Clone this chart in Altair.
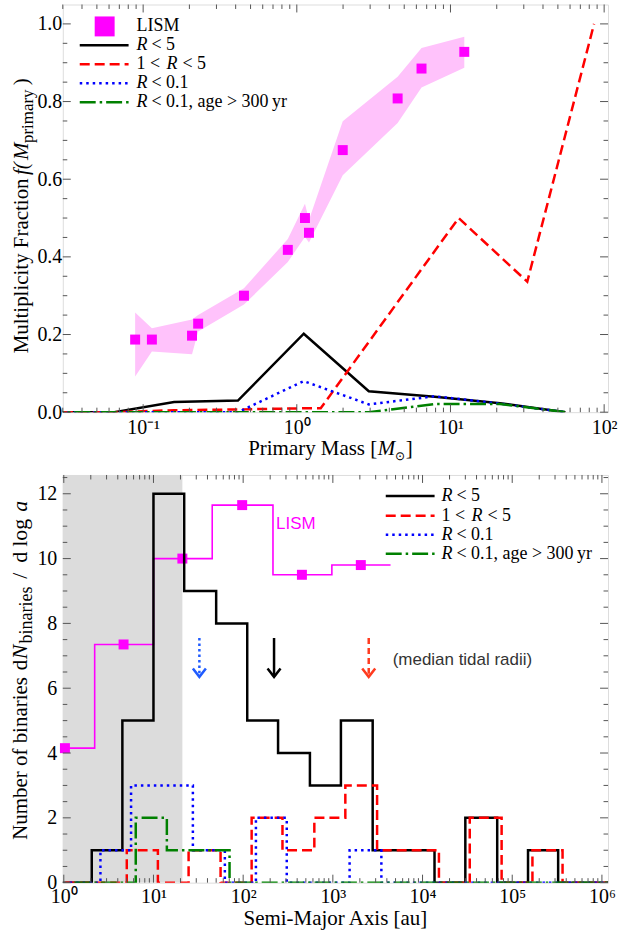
import altair as alt
import pandas as pd

# ------------------------------------------------------------------ data
# Upper panel: multiplicity fraction against primary mass
lism_mass = [0.0887, 0.114, 0.208, 0.228, 0.453, 0.874, 1.13, 1.20, 1.99, 4.53, 6.48, 12.3]
lism_frac = [0.187, 0.187, 0.197, 0.228, 0.300, 0.418, 0.500, 0.462, 0.675, 0.808, 0.885, 0.928]
lism_frac_lo = [0.092, 0.156, 0.149, 0.208, 0.277, 0.387, 0.451, 0.437, 0.610, 0.745, 0.836, 0.887]
lism_frac_hi = [0.257, 0.216, 0.239, 0.250, 0.319, 0.446, 0.537, 0.495, 0.749, 0.864, 0.938, 0.967]

bin_mass = [0.024, 0.065, 0.159, 0.414, 1.11, 2.94, 7.9, 21.0, 56.0]
frac_r5 = [0.0, 0.0, 0.026, 0.030, 0.202, 0.054, 0.040, 0.023, 0.0]
frac_r01 = [0.0, 0.0, 0.0, 0.0, 0.080, 0.020, 0.041, 0.022, 0.0]
frac_r01_old = [0.0, 0.0, 0.0, 0.0, 0.0, 0.0, 0.021, 0.021, 0.0]
bin_mass_r1to5 = [0.024, 0.065, 0.159, 0.414, 1.11, 1.43, 11.3, 31.6, 86.0]
frac_r1to5 = [0.0, 0.0, 0.005, 0.007, 0.010, 0.010, 0.500, 0.336, 1.0]

# Lower panel: distribution of binary semi-major axes
sma_edges = [0.93, 2.05, 4.5, 10, 22, 50, 111, 245, 555, 1230, 2780, 6150,
             13600, 30000, 68000, 150000, 325000, 720000, 1600000]
n_r5 = [0, 1, 5, 12, 9, 8, 5, 4, 3, 5, 1, 1, 0, 2, 0, 1, 0, 0]
n_r1to5 = [0, 0, 1, 0, 1, 0, 2, 1, 2, 3, 1, 1, 0, 2, 0, 1, 0, 0]
n_r01 = [0, 1, 3, 3, 1, 0, 2, 0, 0, 1, 0, 0, 0, 0, 0, 0, 0, 0]
n_r01_old = [0, 0, 2, 1, 1, 0, 0, 0, 0, 0, 0, 0, 0, 0, 0, 0, 0, 0]
# small multiplicative offsets so overlapping histograms stay visible
hist_shift = [1.0, 1.12, 1.25, 1.41]

lism_sma_edges = [0.48, 2.21, 10.0, 45.2, 215, 975, 4400]
lism_sma_mid = [1.03, 4.64, 21.0, 97.5, 452, 2050]
lism_sma_n = [4.15, 7.35, 10.0, 11.65, 9.5, 9.8]

# median tidal radii: R<0.1, R<5, 1<R<5
tidal_radius = [32.5, 221, 2512]
arrow_from, arrow_to = 7.55, 6.35
shaded_upper = 21.0

# ------------------------------------------------------------------ style
SERIF = "Liberation Serif"
SANS = "Liberation Sans"
TICK = "#555555"
MAG = "#ff00ff"
BAND = "#ffc2fb"
GREY = "#dcdcdc"

SERIES = [  # colour, dash pattern
    ("black", None),
    ("#ff0000", [10, 5]),
    ("#0000ff", [2.5, 4]),
    ("#008000", [16, 4, 2.5, 4]),
]
ARROW_COL = ["#1f5bff", "black", "#ff3b1f"]
ARROW_DASH = [[2.5, 3], None, [6, 4]]
CHEVRON = "M-1,-1.3L0,0L1,-1.3"

W, H = 547, 409
ONE = pd.DataFrame({"k": [0]})

SUP = {-1: "\u207b\u00b9", 0: "\u2070", 1: "\u00b9", 2: "\u00b2", 3: "\u00b3",
       4: "\u2074", 5: "\u2075", 6: "\u2076"}


def pow10_expr(exps):
    e = "round(log(datum.value)/LN10)"
    expr = "''"
    for k in exps:
        expr = f"({e}=={k} ? '{SUP[k]}' : {expr})"
    return "'10' + " + expr


AX = dict(title=None, ticks=False, tickSize=0, domain=False, grid=False,
          labelFont=SERIF, labelFontSize=20, labelColor="black",
          labelOverlap=False, labelFlush=False, labelBound=False)


def label(text, x, y, size=20, italic=False, font=SERIF, color="black",
          angle=0, align="left", baseline="middle"):
    kw = dict(text=text, font=font, fontSize=size, color=color,
              align=align, baseline=baseline)
    if italic:
        kw["fontStyle"] = "italic"
    if angle:
        kw["angle"] = angle
    return alt.Chart(ONE).mark_text(**kw).encode(x=alt.value(x), y=alt.value(y))


def key_line(x0, x1, y, color, dash):
    kw = dict(color=color, strokeWidth=2.5)
    if dash:
        kw["strokeDash"] = dash
    return alt.Chart(ONE).mark_rule(**kw).encode(
        x=alt.value(x0), x2=alt.value(x1), y=alt.value(y))


def tick_layers(xenc, yenc, xmaj, xmin, ymaj, ymin):
    out = []
    for vals, L in ((xmaj, 8), (xmin, 4.5)):
        base = alt.Chart(pd.DataFrame({"v": vals})).mark_rule(color=TICK, strokeWidth=1)
        out.append(base.encode(x=xenc("v"), y=alt.value(H), y2=alt.value(H - L)))
        out.append(base.encode(x=xenc("v"), y=alt.value(0), y2=alt.value(L)))
    for vals, L in ((ymaj, 8), (ymin, 4.5)):
        base = alt.Chart(pd.DataFrame({"v": vals})).mark_rule(color=TICK, strokeWidth=1)
        out.append(base.encode(y=yenc("v"), x=alt.value(0), x2=alt.value(L)))
        out.append(base.encode(y=yenc("v"), x=alt.value(W), x2=alt.value(W - L)))
    return out


def legend_rows(x_line, x_text, ys):
    rows = [
        [("R", 0, True), ("< 5", 15, False)],
        [("1 <", 0, False), ("R", 30, True), ("< 5", 46, False)],
        [("R", 0, True), ("< 0.1", 15, False)],
        [("R", 0, True), ("< 0.1, age > 300\u2009yr", 15, False)],
    ]
    out = []
    for (col, dash), row, y in zip(SERIES, rows, ys):
        out.append(key_line(x_line, x_line + 49, y, col, dash))
        for txt, dx, it in row:
            out.append(label(txt, x_text + dx, y, size=18, italic=it))
    return out


# ------------------------------------------------------------------ upper panel
def tx(field):
    return alt.X(f"{field}:Q", scale=alt.Scale(type="log", domain=[0.03, 106], nice=False),
                 axis=alt.Axis(values=[0.1, 1, 10, 100], labelExpr=pow10_expr([-1, 0, 1, 2]),
                               labelPadding=5, **AX))


def ty(field):
    return alt.Y(f"{field}:Q", scale=alt.Scale(domain=[0, 1.05], nice=False, zero=False),
                 axis=alt.Axis(values=[0, 0.2, 0.4, 0.6, 0.8, 1.0], format=".1f",
                               labelPadding=1, **AX))


lism_df = pd.DataFrame({"m": lism_mass, "f": lism_frac, "lo": lism_frac_lo, "hi": lism_frac_hi})
band = alt.Chart(lism_df).mark_area(color=BAND, opacity=1).encode(x=tx("m"), y=ty("lo"), y2="hi")
lism_pts = alt.Chart(lism_df).mark_point(shape="square", filled=True, size=100, color=MAG,
                                         opacity=1).encode(x=tx("m"), y=ty("f"))

top_lines = []
for (col, dash), xs, ys in zip(SERIES,
                               [bin_mass, bin_mass_r1to5, bin_mass, bin_mass],
                               [frac_r5, frac_r1to5, frac_r01, frac_r01_old]):
    kw = dict(color=col, strokeWidth=2.5, clip=True)
    if dash:
        kw["strokeDash"] = dash
    df = pd.DataFrame({"m": xs, "f": ys, "i": range(len(xs))})
    top_lines.append(alt.Chart(df).mark_line(**kw).encode(x=tx("m"), y=ty("f"), order="i:Q"))

top_xmin = [m * d for d in (0.01, 0.1, 1, 10) for m in range(2, 10) if 0.03 <= m * d <= 106]
top_ymin = [round(0.05 * k, 2) for k in range(1, 21) if k % 4]
top_ticks = tick_layers(tx, ty, [0.1, 1, 10, 100], top_xmin, [0, 0.2, 0.4, 0.6, 0.8, 1.0], top_ymin)

top_legend = [
    alt.Chart(ONE).mark_point(shape="square", filled=True, size=400, color=MAG, opacity=1)
    .encode(x=alt.value(42), y=alt.value(22)),
    label("LISM", 74, 22, size=18),
] + legend_rows(17, 74, [41, 60, 79, 98])

top_titles = [
    label("Multiplicity Fraction", -35, 350, size=21, angle=270, baseline="alphabetic"),
    label("f(", -35, 171, size=21, italic=True, angle=270, baseline="alphabetic"),
    label("M", -35, 156, size=21, italic=True, angle=270, baseline="alphabetic"),
    label("primary", -30, 139, size=17, angle=270, baseline="alphabetic"),
    label(")", -35, 81, size=21, angle=270, baseline="alphabetic"),
    label("Primary Mass [", 186, 452, size=21, baseline="alphabetic"),
    label("M", 316, 452, size=21, italic=True, baseline="alphabetic"),
    label("\u2299", 333, 457, size=12, baseline="alphabetic"),
    label("]", 344, 452, size=21, baseline="alphabetic"),
]

top = alt.layer(band, lism_pts, *top_lines, *top_ticks, *top_legend, *top_titles
                ).properties(width=W, height=H)


# ------------------------------------------------------------------ lower panel
def bx(field):
    return alt.X(f"{field}:Q", scale=alt.Scale(type="log", domain=[0.975, 1.17e6], nice=False),
                 axis=alt.Axis(values=[1, 10, 100, 1e3, 1e4, 1e5, 1e6],
                               labelExpr=pow10_expr([0, 1, 2, 3, 4, 5, 6]),
                               labelPadding=4, **AX))


def by(field):
    return alt.Y(f"{field}:Q", scale=alt.Scale(domain=[0, 12.58], nice=False, zero=False),
                 axis=alt.Axis(values=[0, 2, 4, 6, 8, 10, 12], format="d",
                               labelPadding=6, **AX))


def hist_outline(edges, counts, shift):
    xs, ys = [edges[0] * shift], [0]
    for i, c in enumerate(counts):
        xs += [edges[i] * shift, edges[i + 1] * shift]
        ys += [c, c]
    xs.append(edges[-1] * shift)
    ys.append(0)
    return pd.DataFrame({"a": xs, "n": ys, "i": range(len(xs))})


def step_line(edges, vals):
    xs, ys = [], []
    for i, v in enumerate(vals):
        xs += [edges[i], edges[i + 1]]
        ys += [v, v]
    return pd.DataFrame({"a": xs, "n": ys, "i": range(len(xs))})


shade = alt.Chart(pd.DataFrame({"a0": [0.5], "a1": [shaded_upper]})).mark_rect(
    color=GREY, clip=True).encode(x=bx("a0"), x2="a1", y=alt.value(0), y2=alt.value(H))

lism_step = alt.Chart(step_line(lism_sma_edges, lism_sma_n)).mark_line(
    color=MAG, strokeWidth=1.6, clip=True).encode(x=bx("a"), y=by("n"), order="i:Q")
lism_sq = alt.Chart(pd.DataFrame({"a": lism_sma_mid, "n": lism_sma_n})).mark_point(
    shape="square", filled=True, size=100, color=MAG, opacity=1).encode(x=bx("a"), y=by("n"))

hists = []
for (col, dash), counts, sh in zip(SERIES, [n_r5, n_r1to5, n_r01, n_r01_old], hist_shift):
    kw = dict(color=col, strokeWidth=2.5, clip=True, strokeJoin="miter")
    if dash:
        kw["strokeDash"] = dash
    hists.append(alt.Chart(hist_outline(sma_edges, counts, sh)).mark_line(**kw)
                 .encode(x=bx("a"), y=by("n"), order="i:Q"))

arrows = []
for a, col, dash in zip(tidal_radius, ARROW_COL, ARROW_DASH):
    d = pd.DataFrame({"a": [a], "y0": [arrow_from], "y1": [arrow_to]})
    kw = dict(color=col, strokeWidth=2.5)
    if dash:
        kw["strokeDash"] = dash
    arrows.append(alt.Chart(d).mark_rule(**kw).encode(x=bx("a"), y=by("y0"), y2="y1"))
    arrows.append(alt.Chart(d).mark_point(shape=CHEVRON, filled=False, size=170, strokeWidth=2.5,
                                          color=col, opacity=1).encode(x=bx("a"), y=by("y1")))

bot_xmin = [m * 10 ** k for k in range(0, 6) for m in range(2, 10)]
bot_ymin = [0.5 * k for k in range(1, 26) if k % 4]
bot_ticks = tick_layers(bx, by, [1, 10, 100, 1e3, 1e4, 1e5, 1e6], bot_xmin,
                        [0, 2, 4, 6, 8, 10, 12], bot_ymin)

bot_notes = legend_rows(324, 380, [21, 41, 60, 79]) + [
    label("LISM", 214, 49, size=17, font=SANS, color=MAG),
    label("(median tidal radii)", 331, 186, size=17, font=SANS, color="#333333"),
    label("Semi-Major Axis [au]", W / 2, 451, size=21, align="center", baseline="alphabetic"),
    label("Number of binaries", -36, 366, size=21, angle=270, baseline="alphabetic"),
    label("d", -36, 196, size=21, angle=270, baseline="alphabetic"),
    label("N", -36, 185, size=22, italic=True, angle=270, baseline="alphabetic"),
    label("binaries", -31, 169, size=18, angle=270, baseline="alphabetic"),
    label("/", -36, 104, size=22, angle=270, baseline="alphabetic"),
    label("d", -36, 88, size=22, angle=270, baseline="alphabetic"),
    label("log", -36, 72, size=22, angle=270, baseline="alphabetic"),
    label("a", -36, 37, size=22, italic=True, angle=270, baseline="alphabetic"),
]

bottom = alt.layer(shade, lism_step, lism_sq, *hists, *arrows, *bot_ticks, *bot_notes
                   ).properties(width=W, height=H)

chart = alt.vconcat(top, bottom, spacing=11).properties(
    padding={"left": 8, "top": 2, "right": 0, "bottom": 0}
).configure_view(stroke="#444444", strokeWidth=1.5).configure(background="white")

chart.save("out.html", embed_options={"renderer": "svg", "actions": False})
